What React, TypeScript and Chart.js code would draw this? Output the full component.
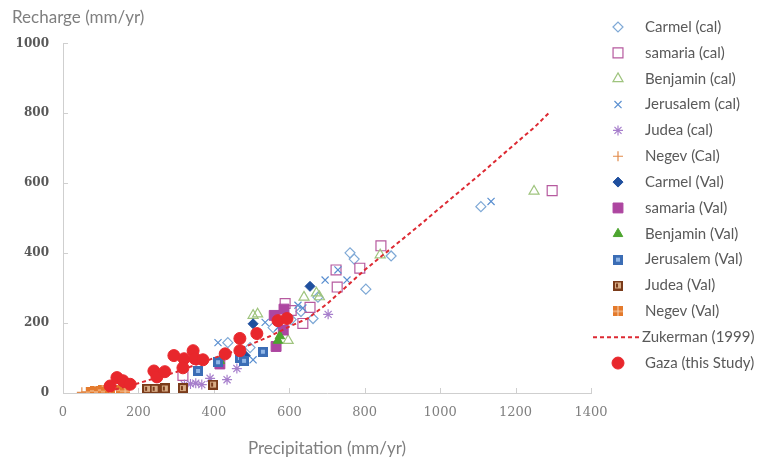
import React, { useEffect, useRef } from "react";
import { Chart, registerables, PointElement } from "chart.js";

Chart.register(...registerables);

// ---------- data ----------
const xTickValues = [0, 200, 400, 600, 800, 1000, 1200, 1400];
const yTickValues = [0, 200, 400, 600, 800, 1000];

const seriesNames = [
  "Carmel (cal)",
  "samaria (cal)",
  "Benjamin (cal)",
  "Jerusalem (cal)",
  "Judea (cal)",
  "Negev (Cal)",
  "Carmel (Val)",
  "samaria (Val)",
  "Benjamin (Val)",
  "Jerusalem (Val)",
  "Judea (Val)",
  "Negev (Val)",
  "Zukerman (1999)",
  "Gaza (this Study)",
];

const carmelCal: [number, number][] = [
  [437, 144], [496, 130], [557, 187], [605, 210], [631, 233], [663, 213],
  [676, 274], [761, 401], [772, 383], [803, 297], [870, 392], [1108, 533],
];
const samariaCal: [number, number][] = [
  [318, 50], [589, 256], [605, 236], [636, 199], [655, 245], [724, 352],
  [727, 303], [787, 357], [843, 421], [1297, 579],
];
const benjaminCal: [number, number][] = [
  [504, 222], [516, 226], [597, 150], [639, 274], [672, 286], [680, 275],
  [841, 395], [1249, 577],
];
const jerusalemCal: [number, number][] = [
  [411, 144], [470, 115], [504, 95], [536, 202], [570, 188], [623, 251],
  [636, 243], [695, 323], [729, 352], [753, 323], [1135, 548],
];
const judeaCal: [number, number][] = [
  [322, 24], [338, 26], [352, 28], [368, 24], [390, 42], [435, 38],
  [461, 70], [703, 225],
];
const negevCal: [number, number][] = [[50, 2], [62, 3]];
const carmelVal: [number, number][] = [[483, 107], [504, 198], [655, 305]];
const samariaVal: [number, number][] = [
  [416, 83], [565, 133], [584, 180], [560, 222], [586, 240],
];
const benjaminVal: [number, number][] = [[416, 92], [570, 150], [575, 163]];
const jerusalemVal: [number, number][] = [
  [358, 63], [411, 88], [469, 100], [480, 92], [530, 118],
];
const judeaVal: [number, number][] = [
  [223, 12], [243, 12], [270, 13], [318, 14], [398, 24],
];
const negevVal: [number, number][] = [
  [75, 2], [85, 6], [95, 3], [105, 8], [115, 4], [125, 10], [155, 8], [165, 5],
];
const zukerman: [number, number][] = [
  [120, 5], [200, 28], [300, 60], [363, 85], [400, 100], [450, 118],
  [500, 140], [550, 163], [600, 190], [650, 214], [700, 255], [750, 303],
  [800, 352], [850, 396], [900, 440], [950, 484], [1000, 530], [1050, 575],
  [1100, 620], [1150, 667], [1200, 714], [1250, 760], [1292, 805],
];
const gaza: [number, number][] = [
  [125, 20], [143, 44], [159, 35], [178, 25], [241, 63], [249, 46],
  [270, 61], [294, 107], [321, 98], [318, 72], [345, 121], [350, 98],
  [371, 95], [430, 112], [469, 156], [469, 121], [514, 170], [570, 207],
  [594, 213],
];

// ---------- style ----------
const AXIS_COLOR = "#cfcfcf";
const LEGEND_FONT = "15px Lato";
const LEGEND_COLOR = "#595959";
const LEG_Y0 = 27;
const LEG_DY = 25.85;
const LEG_MX = 618;
const LEG_TX = 645;

const pts = (a: [number, number][]) => a.map(([x, y]) => ({ x, y }));

function makeMarker(kind: string): HTMLCanvasElement {
  const c = document.createElement("canvas");
  c.width = 10;
  c.height = 10;
  const g = c.getContext("2d")!;
  if (kind === "jer") {
    g.fillStyle = "#3b6db5";
    g.fillRect(0, 0, 10, 10);
    g.fillStyle = "#8fb5e6";
    g.fillRect(3, 3, 4, 4);
  } else if (kind === "jud") {
    g.fillStyle = "#7a3b1a";
    g.fillRect(0, 0, 10, 10);
    g.fillStyle = "#d8ad86";
    g.fillRect(2, 2, 6, 6);
    g.fillStyle = "#7a3b1a";
    g.fillRect(3, 3, 2, 4);
  } else {
    g.fillStyle = "#e47a2c";
    g.fillRect(0, 0, 10, 10);
    g.fillStyle = "#f8d2b0";
    g.fillRect(4.5, 0, 1, 10);
    g.fillRect(0, 4.5, 10, 1);
  }
  return c;
}

const legendPlugin = {
  id: "customLegend",
  afterDraw(chart: any) {
    const ctx = chart.ctx as CanvasRenderingContext2D;
    const area = { left: 0, top: 0, right: chart.width, bottom: chart.height };
    chart.data.datasets.forEach((ds: any, i: number) => {
      const y = LEG_Y0 + i * LEG_DY;
      ctx.save();
      if (ds.isLine) {
        ctx.strokeStyle = ds.borderColor;
        ctx.lineWidth = 2;
        ctx.setLineDash([4, 3]);
        ctx.beginPath();
        ctx.moveTo(593, y);
        ctx.lineTo(640, y);
        ctx.stroke();
        ctx.setLineDash([]);
      } else {
        const p: any = new (PointElement as any)({
          x: LEG_MX,
          y,
          options: {
            pointStyle: ds.pointStyle,
            radius: ds.pointRadius,
            rotation: 0,
            borderWidth: ds.borderWidth,
            backgroundColor: ds.backgroundColor,
            borderColor: ds.borderColor,
          },
        });
        p.draw(ctx, area);
      }
      ctx.font = LEGEND_FONT;
      ctx.fillStyle = LEGEND_COLOR;
      ctx.textAlign = "left";
      ctx.textBaseline = "middle";
      ctx.fillText(seriesNames[i], ds.isLine ? 642 : LEG_TX, y);
      ctx.restore();
    });
  },
};

const innerTicksPlugin = {
  id: "innerTicks",
  beforeDatasetsDraw(chart: any) {
    const { ctx, chartArea, scales } = chart;
    ctx.save();
    ctx.strokeStyle = AXIS_COLOR;
    ctx.lineWidth = 1;
    ctx.beginPath();
    for (const v of xTickValues) {
      const px = Math.round(scales.x.getPixelForValue(v)) + 0.5;
      ctx.moveTo(px, chartArea.bottom);
      ctx.lineTo(px, chartArea.bottom - 5);
    }
    for (const v of yTickValues) {
      const py = Math.round(scales.y.getPixelForValue(v)) + 0.5;
      ctx.moveTo(chartArea.left, py);
      ctx.lineTo(chartArea.left + 5, py);
    }
    ctx.stroke();
    ctx.restore();
  },
};

export default function App() {
  const ref = useRef<HTMLCanvasElement | null>(null);

  useEffect(() => {
    if (!ref.current) return;
    const jerImg = makeMarker("jer");
    const judImg = makeMarker("jud");
    const negImg = makeMarker("neg");
    const clear = "rgba(0,0,0,0)";
    const mk = (
      data: [number, number][],
      pointStyle: any,
      radius: number,
      border: string,
      fill: string,
      bw: number,
      order: number
    ) => ({
      data: pts(data),
      pointStyle,
      pointRadius: radius,
      pointHoverRadius: radius,
      borderColor: border,
      backgroundColor: fill,
      borderWidth: bw,
      pointBorderWidth: bw,
      showLine: false,
      order,
    });

    const datasets: any[] = [
      mk(carmelCal, "rectRot", 5, "#7fa9d6", clear, 1.2, 20),
      mk(samariaCal, "rect", 7, "#b65a9f", clear, 1.2, 19),
      mk(benjaminCal, "triangle", 5.8, "#9fc47e", clear, 1.2, 18),
      mk(jerusalemCal, "crossRot", 5, "#5a8fd0", clear, 1.2, 17),
      mk(judeaCal, "star", 5, "#a77fcc", clear, 1.2, 16),
      mk(negevCal, "cross", 5, "#e28a4a", clear, 1.2, 15),
      mk(carmelVal, "rectRot", 5, "#1f4f9e", "#1f4f9e", 1, 14),
      mk(samariaVal, "rect", 7, "#ad46a0", "#ad46a0", 1, 13),
      mk(benjaminVal, "triangle", 5.5, "#4da52f", "#4da52f", 1, 12),
      mk(jerusalemVal, jerImg, 5, "#3b6db5", "#3b6db5", 1, 11),
      mk(judeaVal, judImg, 5, "#7a3b1a", "#7a3b1a", 1, 10),
      mk(negevVal, negImg, 5, "#e47a2c", "#e47a2c", 1, 9),
      {
        type: "line",
        isLine: true,
        data: pts(zukerman),
        showLine: true,
        borderColor: "#dd2a33",
        backgroundColor: "#dd2a33",
        borderWidth: 2,
        borderDash: [4, 3],
        pointRadius: 0,
        pointHoverRadius: 0,
        fill: false,
        tension: 0,
        order: 8,
      },
      mk(gaza, "circle", 6, "#e8272c", "#e8272c", 1, 7),
    ];

    const chart = new Chart(ref.current, {
      type: "scatter",
      data: { datasets },
      options: {
        animation: false,
        responsive: true,
        maintainAspectRatio: false,
        layout: { padding: { left: 12, right: 168, top: 0, bottom: 0 } },
        plugins: {
          legend: { display: false },
          tooltip: { enabled: false },
          title: {
            display: true,
            text: "Recharge (mm/yr)",
            align: "start",
            color: "#7f7f7f",
            font: { family: "Lato", size: 17, weight: "normal", lineHeight: 1.2 },
            padding: { top: 7, bottom: 16 },
          },
        },
        scales: {
          x: {
            type: "linear",
            min: 0,
            max: 1400,
            afterFit: (s: any) => {
              s.height = 69;
            },
            afterBuildTicks: (s: any) => {
              s.ticks = xTickValues.map((v) => ({ value: v }));
            },
            ticks: {
              color: "#808080",
              font: { family: "DejaVu Serif", size: 13 },
              padding: 12,
              maxRotation: 0,
              callback: (v: any) => String(v),
            },
            grid: { display: true, drawOnChartArea: false, drawTicks: false },
            border: { display: true, color: AXIS_COLOR },
            title: {
              display: true,
              text: "Precipitation (mm/yr)",
              color: "#7f7f7f",
              font: { family: "Lato", size: 17 },
              padding: { top: 0, bottom: 3 },
            },
          },
          y: {
            type: "linear",
            min: 0,
            max: 1000,
            afterFit: (s: any) => {
              s.width = 51;
            },
            afterBuildTicks: (s: any) => {
              s.ticks = yTickValues.map((v) => ({ value: v }));
            },
            ticks: {
              color: "#595959",
              font: { family: "DejaVu Serif", size: 12, weight: "bold" },
              padding: 14,
              callback: (v: any) => String(v),
            },
            grid: { display: true, drawOnChartArea: false, drawTicks: false },
            border: { display: true, color: AXIS_COLOR },
          },
        },
      } as any,
      plugins: [innerTicksPlugin, legendPlugin],
    });
    return () => chart.destroy();
  }, []);

  return (
    <div
      style={{
        position: "absolute",
        left: 0,
        top: 0,
        width: 759,
        height: 462,
        background: "#ffffff",
      }}
    >
      <canvas ref={ref} />
    </div>
  );
}
